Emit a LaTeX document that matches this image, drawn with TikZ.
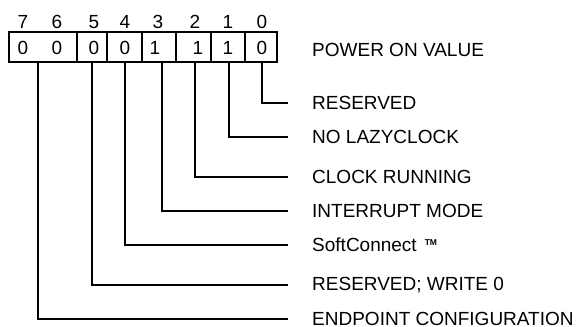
\documentclass[tikz,border=0pt]{standalone}
\usepackage{fontspec}
\setmainfont{Liberation Sans}
\begin{document}
\begin{tikzpicture}[x=1pt,y=-1pt,
  txt/.style={inner sep=0pt,font=\fontsize{19}{22}\selectfont},
  cell/.style={draw,line width=2.4pt,minimum height=30pt,inner sep=0pt},
  lbl/.style={txt,anchor=west},
  conn/.style={line width=1.1pt}]
\useasboundingbox (0,0) rectangle (582,327);
% register cells
\node[cell,minimum width=68pt] (b76) at (43,47) {};
\node[cell,minimum width=30pt] (b5) at (92,47) {};
\node[cell,minimum width=35pt] (b4) at (124.5,47) {};
\node[cell,minimum width=34pt] (b3) at (159,47) {};
\node[cell,minimum width=35pt] (b2) at (193.5,47) {};
\node[cell,minimum width=34pt] (b1) at (228,47) {};
\node[cell,minimum width=32pt] (b0) at (261,47) {};
% bit numbers
\foreach \n/\x in {7/23,6/57,5/94,4/125,3/158,2/195,1/228,0/262}
  \node[txt] (h\n) at (\x,22) {\n};
% values
\foreach \n/\x/\v in {7/23/0,6/57/0,5/94/0,4/125/0,3/155/1,2/198/1,1/228/1,0/262/0}
  \node[txt] (v\n) at (\x,48) {\v};
% labels
\node[lbl] (pov) at (312,50) {POWER ON VALUE};
\node[lbl] (l0) at (312,103) {RESERVED};
\node[lbl] (l1) at (312,137) {NO LAZYCLOCK};
\node[lbl] (l2) at (312,177) {CLOCK RUNNING};
\node[lbl] (l3) at (312,211) {INTERRUPT MODE};
\node[lbl] (l4) at (312,245) {SoftConnect\hspace{8pt}\raisebox{0.62ex}{\fontsize{8.5}{9}\selectfont\bfseries TM}};
\node[lbl] (l5) at (312,285) {RESERVED; WRITE 0};
\node[lbl] (l6) at (312,319) {ENDPOINT CONFIGURATION};
% connector start points on the bottom of the register
\coordinate (c0) at (262,62);
\coordinate (c1) at (229,62);
\coordinate (c2) at (195,62);
\coordinate (c3) at (162,62);
\coordinate (c4) at (125,62);
\coordinate (c5) at (92,62);
\coordinate (c6) at (38,62);
\foreach \i in {0,...,6}
  \draw[conn] (c\i) |- ([xshift=-24pt]l\i.west);
\end{tikzpicture}
\end{document}
